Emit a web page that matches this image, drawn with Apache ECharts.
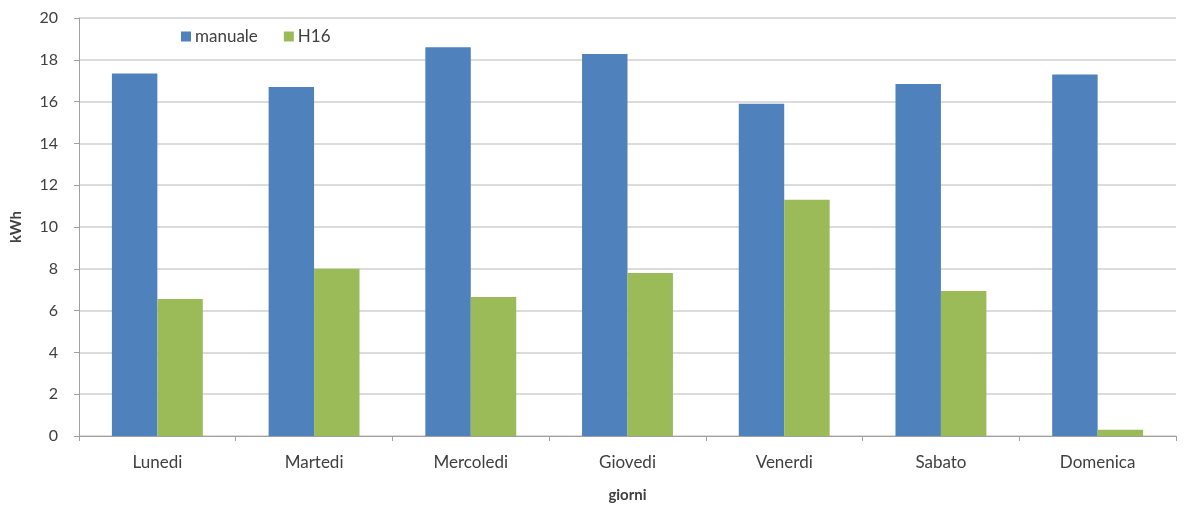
<!DOCTYPE html>
<html><head><meta charset="utf-8">
<script src="https://cdn.jsdelivr.net/npm/echarts@6/dist/echarts.min.js"></script>
<style>html,body{margin:0;padding:0;background:#fff}#c{width:1186px;height:506px}</style>
</head><body><div id="c"></div>
<script>
const categories = ['Lunedi','Martedi','Mercoledi','Giovedi','Venerdi','Sabato','Domenica'];
const manuale = [17.35, 16.7, 18.6, 18.28, 15.9, 16.84, 17.3];
const h16 = [6.55, 8.0, 6.65, 7.8, 11.3, 6.94, 0.3];
const yTicks = [0,2,4,6,8,10,12,14,16,18,20];
const font = 'Lato, "Open Sans", sans-serif';
const chart = echarts.init(document.getElementById('c'));
chart.setOption({
  animation:false,
  textStyle:{fontFamily:font},
  legend:{left:181,top:28,padding:0,itemWidth:10,itemHeight:10,itemGap:26,icon:'rect',
    textStyle:{fontSize:17,color:'#404040',fontFamily:font,padding:[0,0,0,-1]},
    data:['manuale','H16']},
  grid:{left:79,right:10,top:18,bottom:70,containLabel:false,outerBoundsMode:'none'},
  xAxis:{type:'category',data:categories,name:'giorni',nameLocation:'middle',nameGap:52,
    nameTextStyle:{fontWeight:'bold',fontSize:15,color:'#404040'},
    axisLine:{lineStyle:{color:'#a0a0a0'}},
    axisTick:{show:true,alignWithLabel:false,length:5,lineStyle:{color:'#a0a0a0'}},
    axisLabel:{fontSize:17,color:'#404040',margin:18}},
  yAxis:{type:'value',min:0,max:20,interval:2,name:'kWh',nameLocation:'middle',nameGap:55,
    nameTextStyle:{fontWeight:'bold',fontSize:15,color:'#404040'},
    axisLine:{show:true,lineStyle:{color:'#a0a0a0'}},
    axisTick:{show:true,length:5,lineStyle:{color:'#a0a0a0'}},
    splitLine:{lineStyle:{color:'#d0d0d0',width:1.5}},
    axisLabel:{fontSize:16,color:'#404040',margin:21,
      formatter:v=>yTicks.includes(v)?String(v):''}},
  series:[
    {name:'manuale',type:'bar',data:manuale,barGap:'0%',barCategoryGap:'42%',itemStyle:{color:'#4F81BD'}},
    {name:'H16',type:'bar',data:h16,barGap:'0%',barCategoryGap:'42%',itemStyle:{color:'#9BBB59'}}
  ]
});
</script></body></html>
